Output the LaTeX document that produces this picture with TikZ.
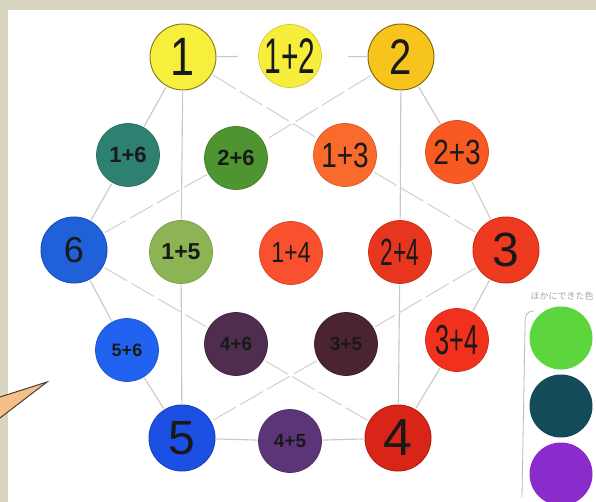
\documentclass[tikz,border=0pt]{standalone}
\usepackage{fontspec}
\newfontfamily\hand{Liberation Sans}
\newfontfamily\handbold{Liberation Sans Bold}
\newfontfamily\handmid[FakeStretch=0.8]{Liberation Sans}
\newfontfamily\handnarrow[FakeStretch=0.6]{Liberation Sans}
\newfontfamily\jpfont{Noto Sans CJK JP}
\newcommand\lblsize[1]{\fontsize{#1}{#1}\selectfont}
\definecolor{frame}{HTML}{D8D5BE}
\definecolor{linegray}{HTML}{C8C8C8}
\definecolor{peach}{HTML}{F5BF8A}
\definecolor{wedgeline}{HTML}{4A3C32}
\definecolor{c1}{HTML}{F8EE3C}
\definecolor{c12}{HTML}{F6EE3A}
\definecolor{c2}{HTML}{F6C41C}
\definecolor{c16}{HTML}{2E8070}
\definecolor{c26}{HTML}{4E9430}
\definecolor{c13}{HTML}{FA6A2C}
\definecolor{c23}{HTML}{F85A22}
\definecolor{c6}{HTML}{2060D8}
\definecolor{c15}{HTML}{8CB454}
\definecolor{c14}{HTML}{F9502E}
\definecolor{c24}{HTML}{E8361E}
\definecolor{c3}{HTML}{EE3A1E}
\definecolor{c56}{HTML}{2262F0}
\definecolor{c46}{HTML}{4E2D4E}
\definecolor{c35}{HTML}{4A2430}
\definecolor{c34}{HTML}{F2301E}
\definecolor{c5}{HTML}{1C50E4}
\definecolor{c45}{HTML}{5C3478}
\definecolor{c4}{HTML}{D92418}
\definecolor{lg1}{HTML}{5CD63C}
\definecolor{lg2}{HTML}{134C58}
\definecolor{lg3}{HTML}{8A2CCC}
\begin{document}
\begin{tikzpicture}[x=1pt,y=-1pt,
  paint/.style={circle,fill=#1,draw=#1!85!black,line width=0.7pt,minimum size=63pt,inner sep=0pt,text=black!90},
  prim/.style={minimum size=66pt,line width=1pt},
  link/.style={draw=linegray,line width=1.1pt,shorten <=1pt,shorten >=1pt},
  tri/.style={draw=linegray!80,line width=1.1pt,dash pattern=on 26pt off 5pt,shorten <=2pt,shorten >=2pt}]
  % paper and frame
  \fill[frame] (0,0) rectangle (596,502);
  \fill[white] (8,10) rectangle (596,502);
  \useasboundingbox (0,0) rectangle (596,502);
  % primaries
  \node[paint=c1,prim,draw=c1!55!black,font=\handmid\lblsize{54}] (n1) at (183,57) {1};
  \node[paint=c2,prim,draw=c2!55!black,font=\handmid\lblsize{50}] (n2) at (401,57) {2};
  \node[paint=c3,prim,font=\hand\lblsize{48}] (n3) at (506,250) {3};
  \node[paint=c4,prim,font=\hand\lblsize{52}] (n4) at (398,438) {4};
  \node[paint=c5,prim,font=\hand\lblsize{48}] (n5) at (182,438) {5};
  \node[paint=c6,prim,font=\hand\lblsize{36}] (n6) at (74,250) {6};
  % mixtures
  \node[paint=c12,font=\handnarrow\lblsize{50}] (n12) at (290,56) {1+2};
  \node[paint=c16,font=\handbold\lblsize{22}] (n16) at (128,155) {1+6};
  \node[paint=c26,font=\handbold\lblsize{22}] (n26) at (236,158) {2+6};
  \node[paint=c13,font=\handmid\lblsize{35}] (n13) at (345,155) {1+3};
  \node[paint=c23,font=\handmid\lblsize{35}] (n23) at (457,152) {2+3};
  \node[paint=c15,font=\handbold\lblsize{23}] (n15) at (181,252) {1+5};
  \node[paint=c14,font=\handmid\lblsize{29}] (n14) at (291,253) {1+4};
  \node[paint=c24,font=\handnarrow\lblsize{38}] (n24) at (400,252) {2+4};
  \node[paint=c56,font=\handbold\lblsize{18}] (n56) at (127,350) {5+6};
  \node[paint=c46,font=\handbold\lblsize{19}] (n46) at (236,344) {4+6};
  \node[paint=c35,font=\handbold\lblsize{19}] (n35) at (346,344) {3+5};
  \node[paint=c34,font=\handnarrow\lblsize{42}] (n34) at (457,340) {3+4};
  \node[paint=c45,font=\handbold\lblsize{19}] (n45) at (290,441) {4+5};
  % outline and verticals
  \draw[link,shorten >=20pt] (n1) -- (n12);
  \draw[link,shorten <=26pt] (n12) -- (n2);
  \foreach \from/\to in {n2/n23,n23/n3,n3/n34,n34/n4,n4/n45,n45/n5,n5/n56,n56/n6,n6/n16,n16/n1,n1/n15,n15/n5,n2/n24,n24/n4}
    \draw[link] (\from) -- (\to);
  % the two triangles
  \foreach \from/\to in {n1/n13,n13/n3,n3/n35,n35/n5,n2/n26,n26/n6,n6/n46,n46/n4}
    \draw[tri] (\from) -- (\to);
  % pointer
  \fill[peach] (0,397) -- (47,382) -- (0,418) -- cycle;
  \draw[wedgeline,line width=1pt] (0,397) -- (47,382) -- (0,418);
  % other colours
  \node[font=\jpfont\lblsize{9},text=gray!70] (cap) at (562,296) {ほかにできた色};
  \draw[gray!55,line width=0.8pt] (534,311) .. controls (526,311) and (525,316) .. (525,326) -- (522,497);
  \node[paint=lg1,draw=none] (g1) at (561,338) {};
  \node[paint=lg2,draw=none] (g2) at (561,406) {};
  \node[paint=lg3,draw=none] (g3) at (561,474) {};
\end{tikzpicture}
\end{document}
